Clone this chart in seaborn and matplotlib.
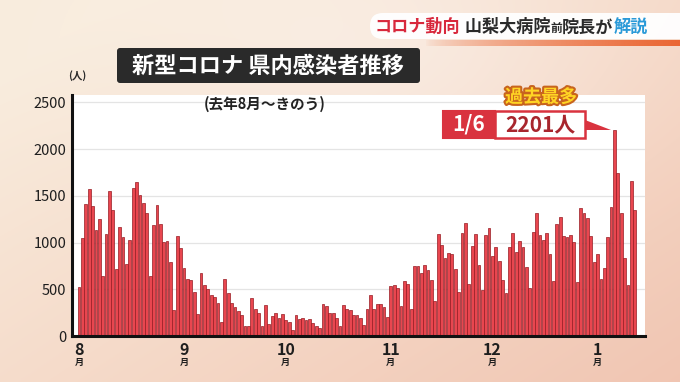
import numpy as np
import pandas as pd
import matplotlib
matplotlib.use("Agg")
import matplotlib.pyplot as plt
import seaborn as sns
from matplotlib.patches import FancyBboxPatch, Rectangle, Polygon
import matplotlib.patheffects as pe

# ---------------- data ----------------
days = list(range(165))  # 0 = Aug 1 ... 164 = Jan 12
cases = [
    520, 1050, 1415, 1570, 1390, 1130, 1250, 640, 1095, 1555,
    1350, 720, 1165, 1055, 770, 1025, 1580, 1650, 1510, 1420,
    1315, 640, 1190, 1400, 1200, 1010, 1015, 795, 278, 1075,
    945, 725, 605, 598, 470, 232, 676, 548, 500, 438,
    420, 353, 150, 610, 463, 358, 312, 266, 223, 103,
    103, 408, 284, 248, 106, 330, 124, 213, 248, 195,
    238, 167, 152, 60, 223, 184, 195, 167, 177, 142,
    106, 82, 344, 319, 248, 248, 195, 106, 337, 294,
    273, 220, 230, 195, 117, 294, 443, 294, 344, 344,
    309, 202, 532, 543, 514, 319, 585, 560, 294, 752,
    752, 674, 755, 702, 603, 372, 1089, 975, 833, 887,
    879, 720, 468, 1099, 1206, 560, 968, 1092, 755, 489,
    1082, 1160, 855, 957, 805, 596, 461, 957, 1099, 894,
    1018, 950, 738, 514, 1117, 1312, 1082, 1028, 1099, 876,
    585, 1195, 1277, 1071, 1057, 1082, 1004, 578, 1372, 1312,
    1259, 1071, 791, 879, 610, 727, 1057, 1383, 2201, 1740,
    1320, 830, 550, 1660, 1350,
]
month_pos = [0, 31, 61, 92, 122, 153]
month_nums = ["8", "9", "10", "11", "12", "1"]
ytick_vals = [0, 500, 1000, 1500, 2000, 2500]
title = "新型コロナ 県内感染者推移"
subtitle = "(去年8月～きのう)"
peak_head = "過去最多"
peak_date = "1/6"
peak_value = "2201人"

# ---------------- style ----------------
sns.set_theme(style="white")
plt.rcParams['font.family'] = ['Noto Sans CJK JP', 'DejaVu Sans']

W, H = 680, 382
fig = plt.figure(figsize=(6.8, 3.82), dpi=100)

# background gradient
bg = fig.add_axes([0, 0, 1, 1], zorder=0)
yy, xx = np.mgrid[0:1:200j, 0:1:360j]
c_tl = np.array([0.975, 0.925, 0.865])
c_br = np.array([0.945, 0.775, 0.700])
t = np.clip(0.6 * xx + 0.5 * yy - 0.1, 0, 1)
light = np.exp(-(((xx - 0.55) / 0.35) ** 2 + ((yy - 0.15) / 0.35) ** 2))
img = c_tl[None, None, :] * (1 - t[..., None]) + c_br[None, None, :] * t[..., None]
img = img + (1 - img) * 0.35 * light[..., None]
bg.imshow(img, extent=[0, W, H, 0], aspect='auto')
bg.set_xlim(0, W); bg.set_ylim(H, 0); bg.axis('off')

# main chart
ax = fig.add_axes([72 / W, (H - 336) / H, (645 - 72) / W, (336 - 95) / H], zorder=1)
df = pd.DataFrame({'day': days, 'cases': cases})
sns.barplot(data=df, x='day', y='cases', native_scale=True, width=0.82,
            color='#e9464f', saturation=1, edgecolor='#961b22', linewidth=0.5,
            errorbar=None, ax=ax)
ax.set_facecolor('white')
ax.set_xlim(-2.06, 167.0)
ax.set_ylim(0, 2580)
ax.set_yticks(ytick_vals)
ax.set_yticklabels([str(v) for v in ytick_vals], fontsize=10.5, color='#1e1e1e')
ax.tick_params(axis='y', length=0, pad=4)
ax.set_xticks(month_pos)
ax.set_xticklabels([])
ax.tick_params(axis='x', length=0)
ax.yaxis.grid(True, color='#e4e4e4', lw=0.9)
ax.set_axisbelow(True)
ax.set_xlabel(''); ax.set_ylabel('')
for s in ['top', 'right']:
    ax.spines[s].set_visible(False)
for s in ['left', 'bottom']:
    ax.spines[s].set_color('#111111')
    ax.spines[s].set_linewidth(2.2)

xt = ax.get_xaxis_transform()
for p, n in zip(month_pos, month_nums):
    ax.text(p, -0.025, n, transform=xt, ha='center', va='top', fontsize=11.5,
            fontweight='bold', color='#1e1e1e')
    ax.text(p, -0.09, '月', transform=xt, ha='center', va='top', fontsize=6.5,
            fontweight='bold', color='#1e1e1e')

# overlay in pixel coordinates
ov = fig.add_axes([0, 0, 1, 1], zorder=3)
ov.set_xlim(0, W); ov.set_ylim(H, 0); ov.axis('off')

# top-right banner
ov.add_patch(FancyBboxPatch((370, 13), 330, 26, boxstyle='round,pad=0,rounding_size=13',
                            fc='white', ec='none', alpha=0.95))
grad = np.zeros((1, 256, 4))
grad[0, :, :3] = np.array([0.92, 0.40, 0.20])
grad[0, :, 3] = np.linspace(0.0, 1.0, 256) ** 0.6
ov.imshow(grad, extent=[425, 680, 46, 40], aspect='auto', zorder=2)
bfs = 12.3
t1 = ov.text(375, 27, 'コロナ動向', ha='left', va='center', fontsize=bfs,
             fontweight='bold', color='#d8283c')
t2 = ov.annotate(' 山梨大病院', xy=(1, 0.5), xycoords=t1, ha='left', va='center',
                 fontsize=bfs, fontweight='bold', color='#2a2a2a')
t3 = ov.annotate('前', xy=(1, 0.42), xycoords=t2, ha='left', va='center',
                 fontsize=8.5, fontweight='bold', color='#2a2a2a')
t4 = ov.annotate('院長が', xy=(1, 0.58), xycoords=t3, ha='left', va='center',
                 fontsize=bfs, fontweight='bold', color='#2a2a2a')
t5 = ov.annotate('解説', xy=(1, 0.5), xycoords=t4, ha='left', va='center',
                 fontsize=bfs, fontweight='bold', color='#2a9ad8')

# title box
ov.add_patch(FancyBboxPatch((117, 48), 303, 35, boxstyle='round,pad=0,rounding_size=3',
                            fc='#2a2a2a', ec='none'))
ov.text(268, 66, title, ha='center', va='center', fontsize=16, fontweight='bold', color='white')

ov.text(77, 76, '(人)', ha='center', va='center', fontsize=7.5, fontweight='bold', color='#2a2a2a')
ov.text(265, 104, subtitle, ha='center', va='center', fontsize=10.5, fontweight='bold', color='#222222')

# peak annotation
ov.text(541, 97, peak_head, ha='center', va='center', fontsize=13, fontweight='bold',
        color='#ffd524', path_effects=[pe.withStroke(linewidth=3, foreground='#c8641e')])
ov.add_patch(Rectangle((443, 111), 52, 27, fc='#d9333f', ec='#d9333f', lw=1.5))
ov.add_patch(Rectangle((495, 111), 90, 27, fc='white', ec='#d9333f', lw=1.8))
ov.add_patch(Polygon([(585, 120), (585, 130), (611, 130)], closed=True, fc='#d9333f', ec='none'))
ov.text(469, 124.5, peak_date, ha='center', va='center', fontsize=15, fontweight='bold', color='white')
ov.text(540, 124.5, peak_value, ha='center', va='center', fontsize=15, fontweight='bold', color='#a8262d')

fig.savefig('out.png', dpi=100)
